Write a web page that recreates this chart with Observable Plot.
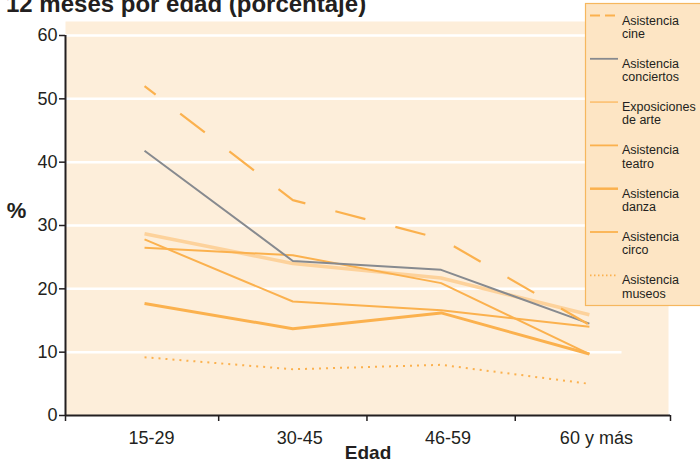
<!DOCTYPE html>
<html><head><meta charset="utf-8">
<script src="https://cdn.jsdelivr.net/npm/d3@7"></script>
<script src="https://cdn.jsdelivr.net/npm/@observablehq/plot@0.6"></script>
<style>
html,body{margin:0;padding:0;background:#fff;}
#chart{position:relative;width:700px;height:463px;overflow:hidden;}
#chart svg{display:block;}
</style></head><body><div id="chart"></div>
<script>
// ---- data ----
const ages = ["15-29", "30-45", "46-59", "60 y más"];
const seriesNames = ["Asistencia cine", "Asistencia conciertos", "Exposiciones de arte", "Asistencia teatro", "Asistencia danza", "Asistencia circo", "Asistencia museos"];
const legendLines = [["Asistencia", "cine"], ["Asistencia", "conciertos"], ["Exposiciones", "de arte"], ["Asistencia", "teatro"], ["Asistencia", "danza"], ["Asistencia", "circo"], ["Asistencia", "museos"]];
const cine = [52.0, 34.0, 27.9, 14.3];
const conciertos = [41.8, 24.4, 23.0, 14.5];
const exposiciones = [28.7, 24.0, 21.7, 15.9];
const teatro = [27.8, 18.0, 16.6, 14.0];
const danza = [17.7, 13.7, 16.2, 9.7];
const circo = [26.5, 25.3, 20.9, 9.7];
const museos = [9.2, 7.3, 8.0, 5.0];
const yTicks = [0, 10, 20, 30, 40, 50, 60];
const title = "12 meses por edad (porcentaje)";
const yLabel = "%";
const xLabel = "Edad";

// ---- styles ----
const FONT = "'Liberation Sans', Arial, sans-serif";
const ORANGE = "#fbb14e", PALE = "#fdd29b", GRAY = "#878a8f", INK = "#231f20";
const styles = [
  {stroke: ORANGE, strokeWidth: 2.2, dash: "31,31", offset: 17, legendDash: "10,5"},
  {stroke: GRAY, strokeWidth: 2, dash: null},
  {stroke: PALE, strokeWidth: 3.5, dash: null},
  {stroke: ORANGE, strokeWidth: 2, dash: null},
  {stroke: ORANGE, strokeWidth: 3, dash: null},
  {stroke: ORANGE, strokeWidth: 2, dash: null},
  {stroke: ORANGE, strokeWidth: 2, dash: "2,5", legendDash: "1.5,2.5"}
];
const allValues = [cine, conciertos, exposiciones, teatro, danza, circo, museos];
const rows = [];
seriesNames.forEach((s, k) => ages.forEach((a, i) => rows.push({serie: s, k, i, age: a, v: allValues[k][i]})));

const xDomain = [-0.533, 3.547];
const gridEnd = 3.22;
const boundaries = [xDomain[0], 0.5, 1.5, 2.5, xDomain[1]];

const lineMarks = seriesNames.map((s, k) => Plot.line(rows.filter(d => d.k === k), {
  x: "i", y: "v",
  stroke: styles[k].stroke,
  strokeWidth: styles[k].strokeWidth,
  strokeDasharray: styles[k].dash || undefined,
  strokeDashoffset: styles[k].offset || undefined,
  strokeLinejoin: "miter",
  strokeLinecap: "butt"
}));
// draw order: pale first, then the rest
const order = [2, 6, 5, 3, 4, 1, 0];

const plot = Plot.plot({
  width: 700, height: 463,
  marginLeft: 65, marginRight: 30, marginTop: 35, marginBottom: 48,
  x: {domain: xDomain, axis: null},
  y: {domain: [0, 60], axis: null},
  style: {fontFamily: FONT, background: "transparent", color: INK},
  marks: [
    Plot.frame({fill: "#fdeeda", stroke: null, insetTop: -14, insetRight: 2}),
    Plot.ruleY(yTicks.filter(d => d > 0), {x1: () => xDomain[0], x2: () => gridEnd, stroke: "#ffffff", strokeWidth: 2.5}),
    ...order.map(k => lineMarks[k]),
    Plot.ruleX([xDomain[0]], {y1: () => 0, y2: () => 60, stroke: INK, strokeWidth: 2}),
    Plot.ruleY([0], {x1: () => xDomain[0], x2: () => xDomain[1], stroke: INK, strokeWidth: 2}),
    Plot.axisY({ticks: yTicks, tickSize: 6, tickPadding: 2, fontSize: 18, stroke: INK, strokeWidth: 1.5, fill: INK, label: null}),
    Plot.axisX({ticks: boundaries, tickFormat: () => "", tickSize: 6, stroke: INK, strokeWidth: 1.5, label: null}),
    Plot.text(ages, {x: (d, i) => i, frameAnchor: "bottom", lineAnchor: "middle", dy: 23, dx: 7, fontSize: 18, fill: INK, text: d => d}),
    Plot.text([xLabel], {frameAnchor: "bottom", lineAnchor: "middle", dy: 37, fontSize: 19, fontWeight: "bold", fill: INK, text: d => d}),
    Plot.text([yLabel], {frameAnchor: "left", textAnchor: "middle", dx: -49, dy: -15, fontSize: 22, fontWeight: "bold", fill: INK, text: d => d})
  ]
});
document.getElementById("chart").appendChild(plot);

// ---- title and legend drawn into the same svg ----
const svg = d3.select(plot);
svg.append("text").attr("x", 6).attr("y", 12)
  .attr("text-anchor", "start")
  .attr("font-family", FONT)
  .attr("font-size", 24).attr("font-weight", "bold").attr("fill", INK)
  .text(title);

const lg = svg.append("g").attr("font-family", FONT).attr("text-anchor", "start");
lg.append("rect").attr("x", 585.5).attr("y", 3.5).attr("width", 120).attr("height", 302)
  .attr("fill", "#fde5c4").attr("stroke", "#f6b75e").attr("stroke-width", 1.2);
seriesNames.forEach((s, k) => {
  const yy = 15.5 + k * 43.3;
  lg.append("line").attr("x1", 590).attr("x2", 618).attr("y1", yy).attr("y2", yy)
    .attr("stroke", styles[k].stroke === PALE ? "#fcc47a" : styles[k].stroke)
    .attr("stroke-width", k === 4 ? 2.5 : 1.8)
    .attr("stroke-dasharray", styles[k].legendDash || null);
  const t = lg.append("text").attr("x", 622).attr("y", yy + 9).attr("font-size", 12.5).attr("fill", INK).attr("text-anchor", "start");
  legendLines[k].forEach((ln, j) => t.append("tspan").attr("x", 622).attr("dy", j === 0 ? 0 : 13.3).text(ln));
});
</script>
</body></html>
